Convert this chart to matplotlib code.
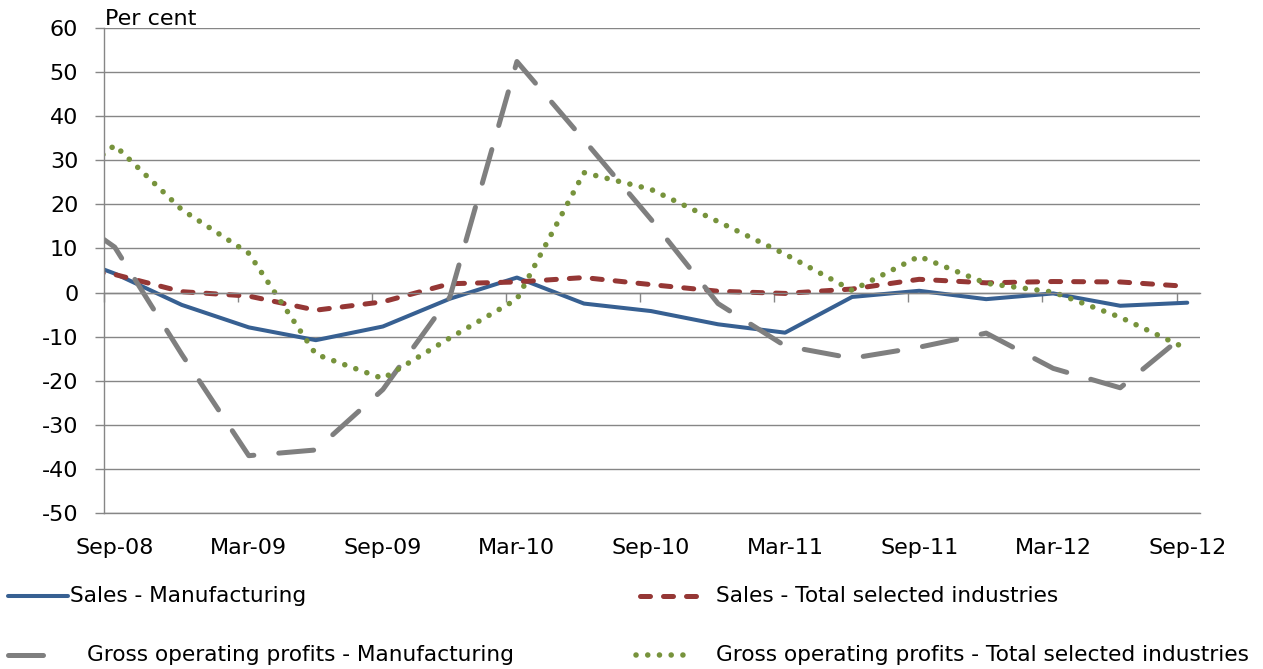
import numpy as np
import matplotlib
matplotlib.use("Agg")
import matplotlib.pyplot as plt
from matplotlib.lines import Line2D

# Quarterly growth, per cent. The Jun-08 value sits just left of the axis and
# only shows as the clipped start of each line.
quarters = ["Jun-08", "Sep-08", "Dec-08", "Mar-09", "Jun-09", "Sep-09", "Dec-09",
            "Mar-10", "Jun-10", "Sep-10", "Dec-10", "Mar-11", "Jun-11", "Sep-11",
            "Dec-11", "Mar-12", "Jun-12", "Sep-12"]

sales_manuf = [10.0, 4.3, -2.8, -7.9, -10.8, -7.7, -1.4, 3.4, -2.5, -4.2,
               -7.2, -9.1, -1.0, 0.4, -1.5, -0.2, -3.0, -2.3]
sales_total = [6.0, 4.1, 0.2, -0.8, -4.0, -2.1, 2.0, 2.4, 3.4, 1.8,
               0.3, -0.2, 0.8, 3.0, 2.2, 2.5, 2.4, 1.4]
gop_manuf = [21.0, 10.3, -14.0, -37.0, -35.7, -22.0, -1.0, 52.4, 34.6, 16.6,
             -2.5, -12.1, -14.9, -12.4, -9.2, -17.2, -21.6, -9.1]
gop_total = [21.4, 33.4, 18.8, 8.9, -14.0, -19.5, -10.3, -1.5, 27.2, 23.4,
             16.1, 8.7, 0.5, 8.2, 2.1, 0.1, -5.6, -12.8]

labels = ["Sales - Manufacturing", "Sales - Total selected industries",
          "Gross operating profits - Manufacturing",
          "Gross operating profits - Total selected industries"]

W, H = 1263, 669
GRID = "#868686"
FS = 16
FS_LEG = 15.6

styles = [
    dict(color="#376092", lw=2.9, ls="-", solid_joinstyle="round", solid_capstyle="round"),
    dict(color="#953735", lw=3.6, ls=(0, (2.0, 2.6)), dash_capstyle="round", dash_joinstyle="round"),
    dict(color="#7F7F7F", lw=3.6, ls=(0, (7.0, 5.0)), dash_capstyle="round", dash_joinstyle="round"),
    dict(color="#77933C", lw=4.0, ls=(0, (0.01, 2.1)), dash_capstyle="round"),
]
# legend slots in figure pixels: handle x0, handle x1, text x, row y
slots = [(8, 68, 70, 596), (640, 705, 716, 596), (8, 66, 87, 655), (636, 690, 716, 655)]

plt.rcParams["font.family"] = ["DejaVu Sans"]
plt.rcParams["axes.unicode_minus"] = False

fig = plt.figure(figsize=(W / 100, H / 100), dpi=100)
ax = fig.add_axes([104 / W, 1 - 513 / H, (1200 - 104) / W, (513 - 28) / H])

# data sit half a month after the first-of-month ticks
x = np.arange(len(quarters)) - 1 + 0.16
series = [sales_manuf, sales_total, gop_manuf, gop_total]
for vals, lab, st in zip(series, labels, styles):
    ax.plot(x, vals, label=lab, **st)

ax.set_xlim(0, 16.35)
ax.set_ylim(-50, 60)
ax.set_yticks(np.arange(-50, 61, 10))
ax.yaxis.grid(True, color=GRID, lw=1.0)
ax.axhline(-50, color=GRID, lw=1.0, clip_on=False, zorder=0.5)
ax.set_axisbelow(True)
ax.tick_params(axis="y", direction="out", length=6.5, width=1.0, color=GRID,
               pad=12, labelsize=FS)

for side in ("top", "right"):
    ax.spines[side].set_visible(False)
ax.spines["left"].set_color(GRID)
ax.spines["left"].set_linewidth(1.0)
ax.spines["bottom"].set_position(("data", 0))
ax.spines["bottom"].set_color(GRID)
ax.spines["bottom"].set_linewidth(1.0)

ax.set_xticks(x[1::2] - 0.16)
ax.tick_params(axis="x", direction="out", length=6.5, width=1.0, color=GRID,
               labelbottom=False)

sec = ax.secondary_xaxis("bottom")
sec.set_xticks(x[1::2], quarters[1::2])
sec.tick_params(length=0, pad=18, labelsize=FS)
sec.spines["bottom"].set_visible(False)

ax.annotate("Per cent", xy=(0, 1), xycoords="axes fraction", xytext=(1, 2),
            textcoords="offset points", ha="left", va="baseline", fontsize=FS)

for (hx0, hx1, tx, ry), lab, st in zip(slots, labels, styles):
    fy = 1 - ry / H
    fig.add_artist(Line2D([hx0 / W, hx1 / W], [fy, fy], transform=fig.transFigure, **st))
    fig.text(tx / W, fy, lab, ha="left", va="center", fontsize=FS_LEG)

fig.savefig("out.png", dpi=100)
